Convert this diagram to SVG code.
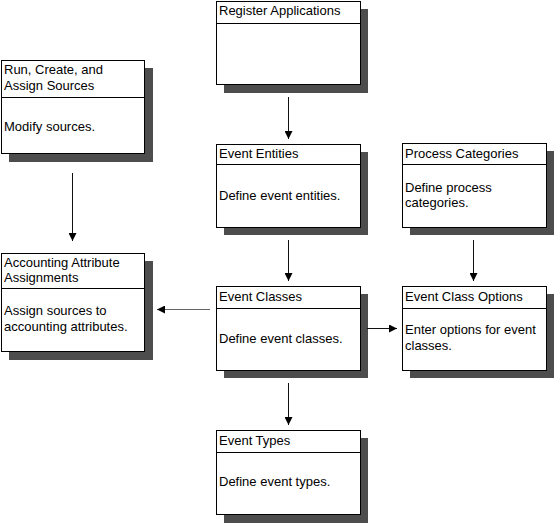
<svg xmlns="http://www.w3.org/2000/svg" width="554" height="523" viewBox="0 0 554 523">
<style>
.bg{fill:#ffffff}
.sh{fill:#4d4d4d}
.box{fill:#ffffff;stroke:#000000;stroke-width:1}
.hl{stroke:#000000;stroke-width:1}
text{font-family:"Liberation Sans",Arial,sans-serif;font-size:13px;fill:#000000}
.ln{stroke:#111111;stroke-width:1;fill:none}
.lg{stroke:#666666;stroke-width:1;fill:none}
</style>
<defs>
<marker id="ah" markerWidth="8" markerHeight="8" refX="8" refY="4" orient="auto" markerUnits="userSpaceOnUse">
<path d="M0,0 L8,4 L0,8 Z" fill="#000000"/>
</marker>
</defs>
<rect class="bg" x="0" y="0" width="554" height="523"/>

<g id="register-applications">
<rect class="sh" x="224" y="9" width="144" height="84"/>
<rect class="box" x="216.5" y="1.5" width="144" height="83"/>
<line class="hl" x1="216.5" y1="23.5" x2="360.5" y2="23.5"/>
<text x="219" y="15">Register Applications</text>
</g>

<g id="event-entities">
<rect class="sh" x="224" y="152" width="144" height="83"/>
<rect class="box" x="216.5" y="144.5" width="144" height="83"/>
<line class="hl" x1="216.5" y1="164.5" x2="360.5" y2="164.5"/>
<text x="219" y="158">Event Entities</text>
<text x="219" y="200">Define event entities.</text>
</g>

<g id="process-categories">
<rect class="sh" x="410" y="151" width="144" height="84"/>
<rect class="box" x="402.5" y="143.5" width="144" height="84"/>
<line class="hl" x1="402.5" y1="164.5" x2="546.5" y2="164.5"/>
<text x="405" y="158">Process Categories</text>
<text x="405" y="192">Define process</text>
<text x="405" y="207">categories.</text>
</g>

<g id="run-create-assign-sources">
<rect class="sh" x="9" y="68" width="144" height="94"/>
<rect class="box" x="1.5" y="60.5" width="143" height="93"/>
<line class="hl" x1="1.5" y1="97.5" x2="144.5" y2="97.5"/>
<text x="4" y="74">Run, Create, and</text>
<text x="4" y="90">Assign Sources</text>
<text x="4" y="131">Modify sources.</text>
</g>

<g id="accounting-attribute-assignments">
<rect class="sh" x="9" y="261" width="144" height="99"/>
<rect class="box" x="1.5" y="253.5" width="143" height="98"/>
<line class="hl" x1="1.5" y1="288.5" x2="144.5" y2="288.5"/>
<text x="4" y="267">Accounting Attribute</text>
<text x="4" y="282">Assignments</text>
<text x="4" y="315">Assign sources to</text>
<text x="4" y="331">accounting attributes.</text>
</g>

<g id="event-classes">
<rect class="sh" x="224" y="294" width="144" height="84"/>
<rect class="box" x="216.5" y="286.5" width="144" height="84"/>
<line class="hl" x1="216.5" y1="308.5" x2="360.5" y2="308.5"/>
<text x="219" y="301">Event Classes</text>
<text x="219" y="343">Define event classes.</text>
</g>

<g id="event-class-options">
<rect class="sh" x="410" y="294" width="144" height="84"/>
<rect class="box" x="402.5" y="286.5" width="144" height="84"/>
<line class="hl" x1="402.5" y1="308.5" x2="546.5" y2="308.5"/>
<text x="405" y="301">Event Class Options</text>
<text x="405" y="334">Enter options for event</text>
<text x="405" y="350">classes.</text>
</g>

<g id="event-types">
<rect class="sh" x="224" y="438" width="144" height="85"/>
<rect class="box" x="216.5" y="430.5" width="144" height="84"/>
<line class="hl" x1="216.5" y1="452.5" x2="360.5" y2="452.5"/>
<text x="219" y="445">Event Types</text>
<text x="219" y="486">Define event types.</text>
</g>

<g id="connectors">
<line class="ln" x1="288.5" y1="97" x2="288.5" y2="139" marker-end="url(#ah)"/>
<line class="ln" x1="288.5" y1="240" x2="288.5" y2="281" marker-end="url(#ah)"/>
<line class="ln" x1="288.5" y1="383" x2="288.5" y2="425" marker-end="url(#ah)"/>
<line class="ln" x1="473.5" y1="240" x2="473.5" y2="281" marker-end="url(#ah)"/>
<line class="ln" x1="72.5" y1="173" x2="72.5" y2="241" marker-end="url(#ah)"/>
<line class="lg" x1="210" y1="309.5" x2="157" y2="309.5" marker-end="url(#ah)"/>
<line class="ln" x1="367" y1="328.5" x2="397" y2="328.5" marker-end="url(#ah)"/>
</g>
</svg>
